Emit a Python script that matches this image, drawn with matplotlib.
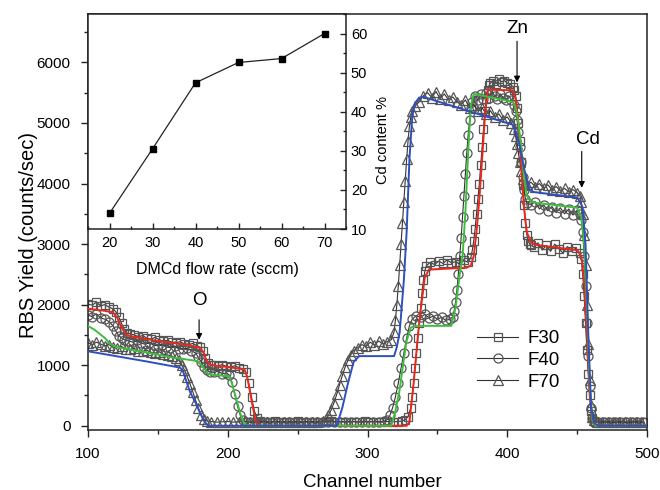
import numpy as np
import matplotlib
matplotlib.use('Agg')
import matplotlib.pyplot as plt
from matplotlib.ticker import MultipleLocator

plt.rcParams['font.family'] = ['Liberation Sans', 'DejaVu Sans']

# measured RBS spectra (channel, counts/sec)
f30_ch = [100, 103, 106, 109, 112, 115, 118, 120, 122, 124, 126, 128, 130,
          133, 136, 139, 142, 145, 148, 151, 154, 157, 160, 163, 166, 169, 172, 175, 178,
          180, 182, 184, 186, 188, 190, 193, 196, 199, 202, 205, 208, 211,
          213, 215, 217, 219, 221, 223,
          226, 230, 234, 238, 242, 246, 250, 254, 258, 262, 266, 270, 274, 278, 282, 286,
          290, 294, 298, 302, 306, 310, 314, 318, 322, 325,
          327, 329, 331, 332, 333, 334, 335, 336, 337, 338, 339, 340, 341, 342,
          345, 348, 351, 354, 357, 360, 363, 366, 369, 372,
          374, 375, 376, 377, 378, 379, 380, 381, 382, 383, 384, 385, 386, 387, 388,
          390, 392, 394, 396, 398, 400, 402, 404,
          405, 406, 407, 408, 409, 410, 411, 412, 413, 414, 415, 416, 417,
          419, 422, 425, 428, 431, 434, 437, 440, 443, 446, 449, 452,
          453, 454, 455, 456, 457, 458, 459, 460, 461, 462, 463,
          466, 470, 474, 478, 482, 486, 490, 494, 498]
f30_yield = [2010, 1990, 2040, 1980, 2000, 1960, 1930, 1880, 1800, 1690, 1590, 1530, 1520,
             1500, 1470, 1490, 1450, 1430, 1460, 1420, 1400, 1410, 1380, 1370, 1390, 1350, 1340, 1360, 1320,
             1300, 1230, 1120, 1040, 1010, 1000, 990, 1010, 980, 970, 990, 960, 940,
             880, 700, 470, 250, 120, 80,
             70, 60, 75, 65, 70, 60, 75, 65, 70, 60, 70, 65, 75, 60, 70, 65,
             70, 60, 75, 65, 70, 60, 70, 65, 70, 80,
             100, 150, 300, 480, 700, 950, 1200, 1450, 1700, 1950, 2200, 2400, 2550, 2640,
             2700, 2660, 2720, 2680, 2740, 2690, 2710, 2670, 2730, 2700,
             2780, 2900, 3050, 3250, 3500, 3750, 4000, 4300, 4600, 4900, 5200, 5400, 5550, 5620, 5660,
             5700, 5650, 5720, 5680, 5700, 5660, 5640, 5600,
             5550, 5450, 5250, 5000, 4700, 4350, 4000, 3650, 3350, 3150, 3050, 3000, 2980,
             2950, 3020, 2900, 2980, 2880, 3000, 2920, 2850, 2960, 2890, 2930, 2850,
             2750, 2500, 2150, 1700, 1250, 850, 500, 250, 120, 80, 70,
             60, 65, 55, 60, 65, 55, 60, 65, 60]

f40_ch = [100, 103, 106, 109, 112, 115, 118, 120, 122, 124, 126,
          129, 132, 135, 138, 141, 144, 147, 150, 153, 156, 159, 162, 165, 168, 171, 174, 177,
          179, 181, 183, 185, 187, 190, 193, 196, 199, 201,
          203, 205, 207, 209, 211, 213,
          216, 220, 224, 228, 232, 236, 240, 244, 248, 252, 256, 260, 264, 268, 272, 276,
          280, 284, 288, 292, 296, 300, 304, 308, 312,
          314, 316, 318, 320, 322, 324, 326, 328, 330, 332,
          335, 338, 341, 344, 347, 350, 353, 356, 359, 361,
          362, 363, 364, 365, 366, 367, 368, 369, 370, 371, 372, 373, 374, 375,
          377, 379, 381, 383, 385, 387, 389, 391, 393, 395, 397, 399, 401, 403, 405,
          406, 407, 408, 409, 410, 411, 412, 413, 414,
          417, 420, 423, 426, 429, 432, 435, 438, 441, 444, 447, 450, 452,
          453, 454, 455, 456, 457, 458, 459, 460, 461, 462,
          465, 469, 473, 477, 481, 485, 489, 493, 497]
f40_yield = [1830, 1800, 1850, 1780, 1760, 1720, 1650, 1560, 1490, 1450, 1420,
             1400, 1380, 1410, 1360, 1350, 1370, 1330, 1320, 1340, 1300, 1290, 1310, 1270, 1260, 1280, 1240, 1200,
             1130, 1050, 970, 920, 890, 880, 900, 860, 870, 840,
             720, 520, 320, 170, 90, 70,
             60, 70, 60, 65, 70, 60, 65, 70, 60, 65, 70, 60, 65, 70, 60, 65,
             70, 60, 65, 70, 60, 65, 70, 60, 75,
             100, 170, 300, 480, 700, 950, 1200, 1450, 1650, 1760,
             1820, 1790, 1840, 1780, 1810, 1760, 1790, 1740, 1760, 1800,
             1900, 2050, 2250, 2500, 2800, 3100, 3450, 3800, 4150, 4500, 4800, 5050, 5250, 5350,
             5450, 5380, 5480, 5400, 5500, 5420, 5520, 5450, 5400, 5480, 5420, 5380, 5450, 5380, 5300,
             5200, 5050, 4850, 4600, 4350, 4100, 3900, 3750, 3680,
             3650, 3700, 3580, 3650, 3550, 3620, 3520, 3600, 3500, 3580, 3480, 3560, 3500,
             3400, 3200, 2800, 2300, 1700, 1150, 650, 300, 130, 80,
             60, 65, 55, 65, 60, 55, 65, 60, 55]

f70_ch = [100, 103, 106, 109, 112, 115, 118, 121, 124, 127, 130, 133, 136, 139, 142, 145,
          148, 151, 154, 157, 160, 163,
          165, 167, 169, 171, 173, 175, 177, 179, 181, 183, 185,
          188, 192, 196, 200, 204, 208, 212, 216, 220, 224, 228, 232, 236, 240, 244, 248,
          252, 256, 260, 264, 268,
          270, 272, 274, 276, 278, 280, 282, 284, 286, 288, 290,
          293, 296, 299, 302, 305, 308, 311, 314, 317,
          319, 320, 321, 322, 323, 324, 325, 326, 327, 328, 329, 330, 331, 332,
          334, 337, 340, 343, 346, 349, 352, 355, 358, 361, 364, 367, 370, 373, 376, 379,
          382, 385, 388, 391, 394, 397, 400, 403,
          405, 406, 407, 408, 409, 410, 411, 412, 414,
          417, 420, 423, 426, 429, 432, 435, 438, 441, 444, 447, 450, 452,
          453, 454, 455, 456, 457, 458, 459, 460, 461, 462,
          464, 468, 472, 476, 480, 484, 488, 492, 496]
f70_yield = [1370, 1340, 1380, 1350, 1320, 1340, 1300, 1290, 1310, 1270, 1260, 1280, 1240, 1230, 1250, 1210,
             1200, 1220, 1180, 1170, 1150, 1120,
             1080, 1010, 920, 810, 690, 560, 420, 290, 180, 110, 80,
             70, 60, 65, 70, 60, 65, 70, 60, 65, 70, 60, 65, 70, 60, 65, 70,
             60, 65, 70, 65, 80,
             110, 170, 260, 380, 520, 680, 830, 970, 1080, 1170, 1240,
             1290, 1340, 1310, 1380, 1330, 1400, 1350, 1390, 1420,
             1550, 1750, 2000, 2300, 2650, 3000, 3350, 3700, 4050, 4400, 4700, 4950, 5100, 5200,
             5280, 5350, 5450, 5500, 5420, 5520, 5400, 5480, 5380, 5430, 5350, 5300, 5380, 5250, 5300, 5200,
             5250, 5150, 5200, 5100, 5150, 5050, 5100, 5000,
             4900, 4780, 4650, 4500, 4350, 4200, 4080, 4000, 3980,
             4020, 3950, 4000, 3920, 3980, 3900, 3950, 3880, 3920, 3860, 3900, 3850, 3800,
             3700, 3500, 3150, 2650, 2000, 1350, 750, 350, 150, 90,
             70, 60, 65, 55, 65, 60, 55, 65, 60]

# simulated spectra (fits)
fit30_ch = [100, 112, 118, 121, 124, 127, 130, 150, 170, 180, 183, 185, 188, 200, 212, 214,
            216, 218, 220, 222, 328, 330, 333, 336, 338, 341, 344, 371, 374, 376, 378, 380,
            382, 384, 386, 404, 406, 408, 410, 412, 414, 417, 420, 450, 453, 455, 457, 459,
            461, 463, 500]
fit30_yield = [1930, 1900, 1870, 1780, 1620, 1520, 1480, 1400, 1340, 1290, 1200, 1060, 1000, 970, 930, 800,
               550, 300, 80, 0, 0, 60, 700, 1470, 1900, 2450, 2580, 2610, 2650, 2800, 3200, 3740,
               4400, 5100, 5550, 5540, 5400, 5000, 4300, 3600, 3200, 3030, 2990, 2900, 2800, 2400, 1500, 500,
               80, 0, 0]

fit40_ch = [100, 105, 112, 116, 120, 140, 160, 178, 182, 186, 190, 201, 203, 206, 209, 212,
            214, 317, 320, 323, 326, 328, 331, 334, 360, 363, 366, 368, 370, 372, 374, 376,
            404, 406, 408, 410, 412, 414, 417, 421, 450, 453, 455, 457, 459, 461, 463, 500]
fit40_yield = [1650, 1580, 1450, 1350, 1300, 1220, 1130, 1070, 980, 860, 840, 820, 700, 450, 200, 20,
               0, 0, 250, 595, 1100, 1400, 1620, 1650, 1650, 1950, 2500, 2800, 3500, 4500, 5300, 5480,
               5350, 5250, 5000, 4600, 4100, 3800, 3700, 3680, 3600, 3450, 3000, 2000, 700, 100, 0, 0]

fit70_ch = [100, 120, 140, 166, 168, 173, 177, 180, 183, 186, 278, 282, 286, 290, 294, 319,
            321, 323, 326, 328, 330, 332, 334, 337, 340, 404, 406, 409, 412, 416, 419, 450,
            452, 454, 456, 458, 460, 462, 465, 500]
fit70_yield = [1230, 1150, 1070, 960, 900, 560, 380, 220, 80, 0, 0, 300, 700, 1050, 1150, 1150,
               1300, 1540, 2400, 3200, 4400, 5100, 5330, 5420, 5430, 4970, 4850, 4620, 4250, 3900, 3860, 3770,
               3700, 3600, 3000, 1500, 300, 50, 0, 0]

# inset: Cd content vs DMCd flow
flow_rate = [20, 30, 40, 50, 60, 70]
cd_content = [14.0, 30.5, 47.4, 52.6, 53.6, 60.0]

fig = plt.figure(figsize=(6.6, 4.9), dpi=100)
ax = fig.add_axes([88/660, 1-430/490, (647-88)/660, (430-14)/490])

gray = '#555555'
ax.plot(f30_ch, f30_yield, '-', color='#333333', lw=0.8, marker='s', ms=6,
        mfc='none', mec=gray, mew=0.9, label='F30', zorder=2)
ax.plot(f40_ch, f40_yield, '-', color='#333333', lw=0.8, marker='o', ms=6.5,
        mfc='none', mec=gray, mew=0.9, label='F40', zorder=2)
ax.plot(f70_ch, f70_yield, '-', color='#333333', lw=0.8, marker='^', ms=7,
        mfc='none', mec=gray, mew=0.9, label='F70', zorder=2)

ax.plot(fit30_ch, fit30_yield, color='#e8281e', lw=1.4, zorder=3)
ax.plot(fit40_ch, fit40_yield, color='#3cbf3c', lw=1.4, zorder=3)
ax.plot(fit70_ch, fit70_yield, color='#2f4fbf', lw=1.4, zorder=3)

ax.set_xlim(100, 500)
ax.set_ylim(-70, 6800)
ax.xaxis.set_major_locator(MultipleLocator(100))
ax.xaxis.set_minor_locator(MultipleLocator(50))
ax.yaxis.set_major_locator(MultipleLocator(1000))
ax.yaxis.set_minor_locator(MultipleLocator(500))
ax.tick_params(which='both', direction='out', labelsize=11, color='#222222', pad=7.5)
ax.tick_params(which='major', length=5, width=1)
ax.tick_params(which='minor', length=3, width=1)
for s in ax.spines.values():
    s.set_linewidth(1.1)
    s.set_color('#222222')

ax.set_xlabel('Channel number', fontsize=13.5)
ax.set_ylabel('RBS Yield (counts/sec)', fontsize=14.5)
ax.xaxis.set_label_coords(0.508, -0.106)
ax.yaxis.set_label_coords(-0.089, 0.469)

arrow = dict(arrowstyle='-|>', color='black', lw=0.8, mutation_scale=9,
             shrinkA=0, shrinkB=0)
ax.text(180, 2070, 'O', fontsize=13.5, ha='center', va='center')
ax.annotate('', xy=(179.5, 1420), xytext=(179.5, 1750), arrowprops=arrow)
ax.text(407.6, 6560, 'Zn', fontsize=13.5, ha='center', va='center')
ax.annotate('', xy=(407, 5670), xytext=(407, 6350), arrowprops=arrow)
ax.text(458, 4730, 'Cd', fontsize=13.5, ha='center', va='center')
ax.annotate('', xy=(453.3, 3930), xytext=(453.3, 4530), arrowprops=arrow)

ax.legend(loc='upper left', bbox_to_anchor=((477-88)/559, (430-330)/416),
          frameon=False, fontsize=13.5, handlelength=2.2, handletextpad=0.5,
          labelspacing=0.25, borderpad=0, borderaxespad=0, numpoints=1)

# inset
ins = fig.add_axes([88/660, 1-229/490, (346-88)/660, (229-14)/490])
ins.plot(flow_rate, cd_content, '-', color='#222222', lw=0.9, marker='s', ms=5,
         mfc='black', mec='black')
ins.set_xlim(15, 75)
ins.set_ylim(10, 65)
ins.yaxis.tick_right()
ins.yaxis.set_label_position('right')
ins.xaxis.set_major_locator(MultipleLocator(10))
ins.xaxis.set_minor_locator(MultipleLocator(5))
ins.yaxis.set_major_locator(MultipleLocator(10))
ins.yaxis.set_minor_locator(MultipleLocator(5))
ins.tick_params(which='both', direction='in', labelsize=10.5, color='#222222')
ins.tick_params(axis='x', pad=5)
ins.tick_params(which='major', length=4, width=1)
ins.tick_params(which='minor', length=2.5, width=1)
for s in ins.spines.values():
    s.set_linewidth(1.1)
    s.set_color('#222222')
ins.set_xlabel('DMCd flow rate (sccm)', fontsize=11.5)
ins.set_ylabel('Cd content %', fontsize=10.5)
ins.xaxis.set_label_coords(0.5, -0.153)
ins.yaxis.set_label_coords(1.116, 0.414)

fig.savefig('out.png', dpi=100)
